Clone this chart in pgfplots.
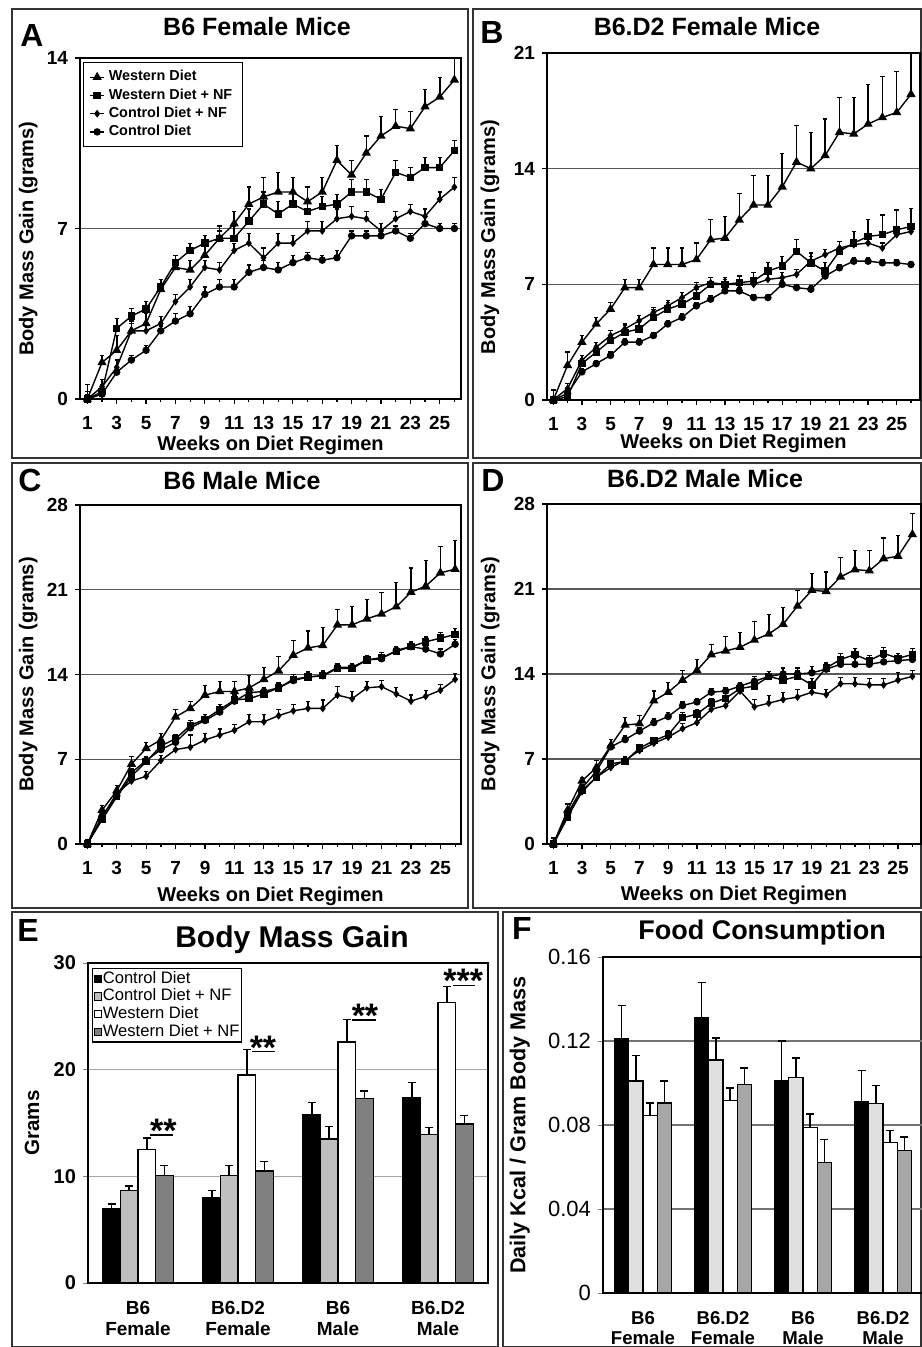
\documentclass[border=0pt]{standalone}
\usepackage{fontspec}
\setmainfont{Liberation Sans}
\usepackage{pgfplots}
\usepackage{pgfplotstable}
\pgfplotsset{compat=1.18}

\newcommand\fs[1]{\fontsize{#1}{#1}\selectfont}

% weekly gains: wd = Western Diet, wn = Western Diet + NF, cn = Control Diet + NF, cd = Control Diet
\pgfplotstableread{
w  wd   wde wn   wne cn   cne cd   cde
1  0    0.3 0    0.2 0    0.6 0    0.1
2  1.5  0.3 0.3  0.3 0.5  0.3 0.2  0.2
3  2.0  0.6 2.9  0.4 1.3  0.3 1.1  0.2
4  2.8  0.4 3.4  0.3 2.8  0.3 1.6  0.2
5  3.1  0.4 3.7  0.3 2.8  0.3 2.0  0.2
6  4.5  0.4 4.6  0.3 3.1  0.3 2.8  0.2
7  5.4  0.3 5.6  0.3 4.0  0.3 3.2  0.3
8  5.3  0.4 6.1  0.3 4.6  0.3 3.5  0.3
9  5.9  0.5 6.4  0.3 5.4  0.3 4.3  0.3
10 6.6  0.5 6.6  0.3 5.3  0.3 4.6  0.3
11 7.2  0.5 6.6  0.5 6.1  0.3 4.6  0.3
12 8.0  0.7 7.3  0.5 6.4  0.4 5.2  0.3
13 8.3  0.8 8.0  0.5 5.8  0.4 5.4  0.3
14 8.5  0.8 7.6  0.5 6.4  0.4 5.3  0.3
15 8.5  0.6 8.0  0.5 6.4  0.3 5.6  0.3
16 8.1  0.6 7.7  0.4 6.9  0.4 5.8  0.2
17 8.5  0.6 7.9  0.4 6.9  0.4 5.7  0.2
18 9.8  0.6 8.0  0.4 7.4  0.4 5.8  0.3
19 9.2  0.6 8.5  0.5 7.5  0.4 6.7  0.2
20 10.1 0.7 8.5  0.5 7.4  0.3 6.7  0.2
21 10.8 0.8 8.2  0.4 6.9  0.3 6.7  0.2
22 11.2 0.7 9.3  0.5 7.4  0.3 6.9  0.2
23 11.1 0.7 9.1  0.4 7.7  0.3 6.6  0.2
24 12.0 0.7 9.5  0.4 7.5  0.3 7.2  0.3
25 12.4 0.8 9.5  0.4 8.2  0.3 7.0  0.2
26 13.1 0.9 10.2 0.4 8.7  0.4 7.0  0.2
}\dataA

\pgfplotstableread{
w  wd   wde wn   wne cn   cne cd   cde
1  0    0.6 0    0.2 0    0.2 0    0.1
2  2.1  0.8 0.2  0.3 0.7  0.3 0.4  0.2
3  3.5  0.4 2.2  0.3 2.4  0.3 1.7  0.2
4  4.6  0.4 2.9  0.3 3.2  0.3 2.2  0.2
5  5.5  0.4 3.6  0.3 3.9  0.3 2.7  0.2
6  6.8  0.5 4.1  0.4 4.3  0.3 3.5  0.2
7  6.8  0.5 4.3  0.4 4.8  0.3 3.5  0.2
8  8.2  1.0 5.0  0.5 5.3  0.3 3.9  0.2
9  8.2  1.0 5.5  0.4 5.7  0.3 4.6  0.2
10 8.2  1.0 5.8  0.4 6.2  0.3 5.0  0.2
11 8.5  1.0 6.3  0.4 6.8  0.3 5.7  0.2
12 9.7  1.2 7.0  0.4 7.1  0.3 6.1  0.2
13 9.8  1.3 7.0  0.4 7.0  0.3 6.6  0.2
14 10.9 1.6 7.1  0.4 7.0  0.3 6.6  0.2
15 11.8 1.8 7.2  0.5 7.0  0.3 6.2  0.2
16 11.8 1.8 7.8  0.5 7.3  0.3 6.2  0.2
17 12.9 2.0 8.1  0.6 7.4  0.3 7.0  0.2
18 14.4 2.2 9.0  0.7 7.6  0.3 6.8  0.2
19 14.0 2.2 8.3  0.6 8.4  0.3 6.7  0.2
20 14.8 2.2 7.8  0.5 8.8  0.3 7.5  0.2
21 16.2 2.1 9.0  0.6 9.2  0.4 8.0  0.2
22 16.1 2.2 9.5  0.7 9.4  0.3 8.4  0.2
23 16.7 2.4 9.9  1.0 9.5  0.3 8.4  0.2
24 17.1 2.5 10.0 1.2 9.2  0.3 8.3  0.2
25 17.4 2.5 10.3 1.2 10.0 0.3 8.3  0.2
26 18.5 2.6 10.5 1.1 10.2 0.3 8.2  0.2
}\dataB

\pgfplotstableread{
w  wd   wde wn   wne cn   cne cd   cde
1  0    0.4 0    0.3 0    0.4 0    0.2
2  2.8  0.4 2.0  0.3 2.2  0.4 2.3  0.3
3  4.4  0.4 3.9  0.3 4.2  0.4 4.0  0.3
4  6.6  0.6 5.6  0.3 5.2  0.4 5.9  0.3
5  7.9  0.5 6.8  0.3 5.6  0.4 6.9  0.3
6  8.6  0.5 8.1  0.3 6.9  0.4 7.8  0.3
7  10.5 0.6 8.7  0.3 7.8  0.4 8.4  0.3
8  11.2 0.6 9.8  0.4 8.0  1.0 9.6  0.3
9  12.3 0.8 10.3 0.4 8.6  0.5 10.2 0.3
10 12.6 0.8 11.1 0.4 9.0  0.5 10.9 0.3
11 12.6 0.8 11.9 0.4 9.4  0.5 11.8 0.3
12 12.9 1.0 12.0 0.4 10.1 0.6 12.5 0.3
13 13.6 1.0 12.4 0.4 10.1 0.6 12.6 0.3
14 14.3 1.2 12.9 0.4 10.6 0.5 12.9 0.3
15 15.6 1.2 13.6 0.4 11.0 0.5 13.5 0.3
16 16.2 1.4 13.8 0.4 11.2 0.6 13.8 0.3
17 16.4 1.5 13.9 0.4 11.2 0.7 13.9 0.3
18 18.1 1.3 14.5 0.3 12.3 0.7 14.6 0.3
19 18.1 1.5 14.5 0.4 12.0 0.6 14.6 0.3
20 18.6 1.6 15.2 0.4 12.9 0.5 15.2 0.3
21 19.0 1.8 15.4 0.4 13.0 0.5 15.3 0.3
22 19.6 2.0 15.9 0.4 12.4 0.5 16.0 0.3
23 20.8 2.0 16.3 0.4 11.8 0.5 16.3 0.3
24 21.3 2.1 16.7 0.4 12.2 0.5 16.1 0.4
25 22.4 2.2 17.0 0.5 12.7 0.5 15.7 0.4
26 22.7 2.4 17.3 0.5 13.6 0.5 16.5 0.4
}\dataC

\pgfplotstableread{
w  wd   wde wn   wne cn   cne cd   cde
1  0    0.5 0    0.3 0    0.2 0    0.2
2  2.8  0.5 2.2  0.3 2.3  0.3 2.5  0.3
3  5.2  0.3 4.4  0.3 4.3  0.3 4.6  0.3
4  6.3  0.6 5.5  0.3 5.5  0.3 6.0  0.3
5  8.1  0.5 6.6  0.3 6.3  0.3 8.0  0.3
6  9.8  0.6 6.8  0.3 6.9  0.3 8.6  0.3
7  9.9  0.7 7.9  0.3 7.7  0.3 9.3  0.3
8  11.8 0.8 8.5  0.3 8.3  0.3 10.0 0.3
9  12.5 0.8 9.0  0.3 8.8  0.3 10.5 0.3
10 13.5 0.8 10.4 0.4 9.5  0.4 11.4 0.3
11 14.3 0.9 10.7 0.4 10.0 0.4 11.7 0.3
12 15.6 0.8 11.6 0.4 11.1 0.4 12.5 0.3
13 15.9 1.2 12.0 0.4 11.4 0.4 12.6 0.3
14 16.2 1.2 12.8 0.4 12.6 0.4 13.0 0.3
15 16.8 1.5 13.0 0.5 11.3 0.6 13.4 0.4
16 17.3 1.6 13.8 0.4 11.6 0.6 13.8 0.4
17 18.1 1.4 13.5 0.5 11.9 0.6 14.0 0.5
18 19.6 1.3 13.8 0.5 12.1 0.6 14.0 0.5
19 20.9 1.4 13.1 0.5 12.5 0.7 14.1 0.5
20 20.8 1.6 14.5 0.4 12.3 0.4 14.4 0.4
21 22.0 1.6 15.2 0.5 13.2 0.5 14.8 0.5
22 22.6 1.6 15.6 0.5 13.2 0.5 14.8 0.5
23 22.5 1.7 15.1 0.4 13.1 0.5 14.8 0.4
24 23.5 1.7 15.7 0.5 13.1 0.5 15.0 0.4
25 23.7 1.7 15.3 0.4 13.5 0.6 15.1 0.4
26 25.5 1.7 15.6 0.5 13.8 0.5 15.2 0.4
}\dataD

% final gain and food intake per group (x = B6 F, B6.D2 F, B6 M, B6.D2 M)
\pgfplotstableread{
x cd   cde cn   cne wd   wde wn   wne
0 7.0  0.4 8.7  0.4 12.5 1.1 10.1 0.9
1 8.0  0.7 10.1 0.9 19.5 2.4 10.5 0.9
2 15.8 1.1 13.5 1.2 22.6 2.1 17.3 0.7
3 17.4 1.4 13.9 0.7 26.3 1.5 14.9 0.8
}\dataE

\pgfplotstableread{
x cd     cde    cn     cne    wd     wde    wn     wne
0 0.121  0.016  0.101  0.012  0.0845 0.006  0.0905 0.0105
1 0.131  0.017  0.111  0.0105 0.0917 0.006  0.0992 0.008
2 0.101  0.019  0.1027 0.0093 0.0789 0.0063 0.0622 0.0108
3 0.0913 0.0147 0.0902 0.0087 0.0717 0.0056 0.0678 0.0065
}\dataF

\pgfplotsset{
  errs/.style={error bars/y dir=plus, error bars/y explicit,
    error bars/error bar style={line width=0.8pt, black},
    error bars/error mark options={rotate=90, mark size=1.1pt, line width=0.6pt, black}},
  lineleg/.style={legend image code/.code={\draw[mark repeat=2, mark phase=2, ##1] plot coordinates {(0pt,0pt)(3.5pt,0pt)(7pt,0pt)};}},
  ser/.style={black, line width=0.7pt, mark options={solid, fill=black}, errs, lineleg},
  wds/.style={ser, mark=triangle*, mark size=2pt},
  wns/.style={ser, mark=square*, mark size=1.5pt},
  cns/.style={ser, mark=diamond*, mark size=1.4pt},
  cds/.style={ser, mark=*, mark size=1.5pt},
  weekly/.style={
    anchor=south west, scale only axis,
    xmin=0.5, xmax=26.45, ymin=0,
    xtick={1,3,...,25}, minor xtick={2,4,...,26},
    tick pos=left, tick align=outside,
    major tick length=2.5pt, minor tick length=1.5pt,
    tick style={black, line width=0.6pt},
    axis line style={line width=0.8pt},
    ymajorgrids, grid style={black!65, line width=0.7pt},
    yticklabel style={font=\fs{9.5}\bfseries},
    xticklabel style={font=\fs{9.5}\bfseries, yshift=-2.5pt},
    /pgf/number format/assume math mode=true,
    xlabel={Weeks on Diet Regimen}, ylabel={Body Mass Gain (grams)},
    xlabel style={font=\fs{10}\bfseries},
    ylabel style={font=\fs{10}\bfseries},
  },
  groups/.style={
    anchor=south west, scale only axis,
    ybar=0pt, xmin=-0.5, xmax=3.5, ymin=0,
    xtick={0,1,2,3},
    xticklabels={{B6\\Female},{B6.D2\\Female},{B6\\Male},{B6.D2\\Male}},
    major x tick style={draw=none},
    tick pos=left, tick align=outside, major tick length=2.5pt,
    axis line style={line width=0.8pt},
    ymajorgrids,
    /pgf/number format/assume math mode=true,
    scaled y ticks=false,
  },
  swatch/.style={legend image code/.code={\draw[##1, line width=0.4pt] (0pt,-1.8pt) rectangle (3.6pt,1.8pt);}},
  barerr/.style={error bars/y dir=plus, error bars/y explicit,
    error bars/error bar style={line width=0.9pt, black},
    error bars/error mark options={rotate=90, mark size=2pt, line width=0.7pt, black}},
}

\begin{document}
\begin{tikzpicture}
\path[use as bounding box] (0,0) rectangle (460.5pt,-673.5pt);

% panel frames
\begin{scope}[line width=1pt, black!80]
\draw (6pt,-4.5pt) rectangle (234pt,-229pt);
\draw (236.5pt,-4.5pt) rectangle (460.5pt,-229pt);
\draw (6pt,-231.5pt) rectangle (234pt,-454pt);
\draw (236.5pt,-231.5pt) rectangle (460.5pt,-454pt);
\draw (6pt,-456pt) rectangle (249pt,-673.5pt);
\draw (251.5pt,-456pt) rectangle (460.5pt,-673.5pt);
\end{scope}

% A
\begin{axis}[weekly, at={(40pt,-199.5pt)}, width=190.5pt, height=170.5pt,
  ymax=14, ytick={0,7,14},
  xlabel style={at={(axis description cs:0.5,-0.135)}, anchor=center},
  ylabel style={at={(axis description cs:-0.136,0.47)}, anchor=center},
  legend style={at={(0.008,0.988)}, anchor=north west, draw=black,
    font=\fs{7.2}\bfseries, row sep=-1.6pt},
  legend cell align=left,
]
\addplot[wds] table[x=w, y=wd, y error=wde] {\dataA};
\addplot[wns] table[x=w, y=wn, y error=wne] {\dataA};
\addplot[cns] table[x=w, y=cn, y error=cne] {\dataA};
\addplot[cds] table[x=w, y=cd, y error=cde] {\dataA};
\legend{Western Diet, Western Diet + NF, Control Diet + NF, Control Diet}
\end{axis}

% B
\begin{axis}[weekly, at={(273.5pt,-200pt)}, width=186.5pt, height=173.5pt,
  xmin=0.56, xmax=26.63, ymax=21, ytick={0,7,14,21},
  xlabel style={at={(axis description cs:0.5,-0.124)}, anchor=center},
  ylabel style={at={(axis description cs:-0.153,0.47)}, anchor=center},
]
\addplot[wds] table[x=w, y=wd, y error=wde] {\dataB};
\addplot[wns] table[x=w, y=wn, y error=wne] {\dataB};
\addplot[cns] table[x=w, y=cn, y error=cne] {\dataB};
\addplot[cds] table[x=w, y=cd, y error=cde] {\dataB};
\end{axis}

% C
\begin{axis}[weekly, at={(40pt,-422pt)}, width=190.5pt, height=169.5pt,
  xmax=26.4, ymax=28, ytick={0,7,14,21,28},
  xlabel style={at={(axis description cs:0.5,-0.155)}, anchor=center},
  ylabel style={at={(axis description cs:-0.136,0.5)}, anchor=center},
]
\addplot[wds] table[x=w, y=wd, y error=wde] {\dataC};
\addplot[wns] table[x=w, y=wn, y error=wne] {\dataC};
\addplot[cns] table[x=w, y=cn, y error=cne] {\dataC};
\addplot[cds] table[x=w, y=cd, y error=cde] {\dataC};
\end{axis}

% D
\begin{axis}[weekly, at={(273.5pt,-422pt)}, width=187pt, height=170pt,
  xmin=0.56, xmax=26.6, ymax=28, ytick={0,7,14,21,28},
  xlabel style={at={(axis description cs:0.5,-0.15)}, anchor=center},
  ylabel style={at={(axis description cs:-0.152,0.5)}, anchor=center},
]
\addplot[wds] table[x=w, y=wd, y error=wde] {\dataD};
\addplot[wns] table[x=w, y=wn, y error=wne] {\dataD};
\addplot[cns] table[x=w, y=cn, y error=cne] {\dataD};
\addplot[cds] table[x=w, y=cd, y error=cde] {\dataD};
\end{axis}

% E
\begin{axis}[groups, at={(44pt,-641.5pt)}, width=200pt, height=160pt,
  bar width=0.176, ymax=30, ytick={0,10,20,30},
  grid style={black!35, line width=0.7pt},
  yticklabel style={font=\fs{10}\bfseries},
  xticklabel style={align=center, font=\fontsize{9.5}{10.8}\selectfont\bfseries, yshift=-3pt},
  ylabel={Grams},
  ylabel style={font=\fs{10.3}\bfseries, at={(axis description cs:-0.14,0.5)}, anchor=center},
  legend style={at={(0.01,0.984)}, anchor=north west, draw=black, line width=0.6pt,
    font=\fs{8.3}, inner sep=0.5pt, row sep=0pt,
    nodes={inner sep=0.6pt, text height=6.1pt, text depth=1.6pt}},
  legend cell align=left,
]
\addplot[swatch, fill=black, draw=black, line width=0.6pt, barerr] table[x=x, y=cd, y error=cde] {\dataE};
\addplot[swatch, fill=black!25, draw=black, line width=0.6pt, barerr] table[x=x, y=cn, y error=cne] {\dataE};
\addplot[swatch, fill=white, draw=black, line width=0.6pt, barerr] table[x=x, y=wd, y error=wde] {\dataE};
\addplot[swatch, fill=black!50, draw=black, line width=0.6pt, barerr] table[x=x, y=wn, y error=wne] {\dataE};
\legend{Control Diet, Control Diet + NF, Western Diet, Western Diet + NF}
\draw[line width=0.9pt] (axis cs:0.12,13.9) -- (axis cs:0.353,13.9);
\draw[line width=0.9pt] (axis cs:1.137,21.7) -- (axis cs:1.37,21.7);
\draw[line width=0.9pt] (axis cs:2.143,24.66) -- (axis cs:2.377,24.66);
\draw[line width=0.9pt] (axis cs:3.153,27.9) -- (axis cs:3.37,27.9);
\node[anchor=base, font=\fs{17}\bfseries, inner sep=0pt] at (axis cs:0.253,13.2) {**};
\node[anchor=base, font=\fs{17}\bfseries, inner sep=0pt] at (axis cs:1.25,21.0) {**};
\node[anchor=base, font=\fs{17}\bfseries, inner sep=0pt] at (axis cs:2.27,23.95) {**};
\node[anchor=base, font=\fs{17}\bfseries, inner sep=0pt] at (axis cs:3.253,27.2) {***};
\end{axis}

% F
\begin{axis}[groups, at={(301.5pt,-646.5pt)}, width=160pt, height=168pt,
  bar width=0.179, ymax=0.16, ytick={0,0.04,0.08,0.12,0.16},
  yticklabels={0,0.04,0.08,0.12,0.16},
  grid style={black!55, line width=0.7pt},
  yticklabel style={font=\fs{11}},
  xticklabel style={align=center, font=\fontsize{9.3}{10}\selectfont\bfseries, yshift=-3pt},
  ylabel={Daily Kcal / Gram Body Mass},
  ylabel style={font=\fs{10.8}\bfseries, at={(axis description cs:-0.26,0.5)}, anchor=center},
]
\addplot[fill=black, draw=black, line width=0.6pt, barerr] table[x=x, y=cd, y error=cde] {\dataF};
\addplot[fill=black!12, draw=black, line width=0.6pt, barerr] table[x=x, y=cn, y error=cne] {\dataF};
\addplot[fill=white, draw=black, line width=0.6pt, barerr] table[x=x, y=wd, y error=wde] {\dataF};
\addplot[fill=black!35, draw=black, line width=0.6pt, barerr] table[x=x, y=wn, y error=wne] {\dataF};
\end{axis}

% panel letters and titles
\begin{scope}[every node/.style={anchor=base, inner sep=0pt}]
\node[font=\fs{16}\bfseries] at (16pt,-23.2pt) {A};
\node[font=\fs{16}\bfseries] at (246pt,-21.7pt) {B};
\node[font=\fs{16}\bfseries] at (15pt,-245.7pt) {C};
\node[font=\fs{16}\bfseries] at (246.5pt,-245.7pt) {D};
\node[font=\fs{16}\bfseries] at (14pt,-470.7pt) {E};
\node[font=\fs{16}\bfseries] at (261pt,-469.7pt) {F};
\node[font=\fs{12.5}\bfseries] at (128.5pt,-18pt) {B6 Female Mice};
\node[font=\fs{12.5}\bfseries] at (353.5pt,-18pt) {B6.D2 Female Mice};
\node[font=\fs{12.5}\bfseries] at (121pt,-244.5pt) {B6 Male Mice};
\node[font=\fs{12.5}\bfseries] at (352.5pt,-243.5pt) {B6.D2 Male Mice};
\node[font=\fs{15}\bfseries] at (146pt,-473.9pt) {Body Mass Gain};
\node[font=\fs{13.5}\bfseries] at (381pt,-469.8pt) {Food Consumption};
\end{scope}
\end{tikzpicture}
\end{document}
